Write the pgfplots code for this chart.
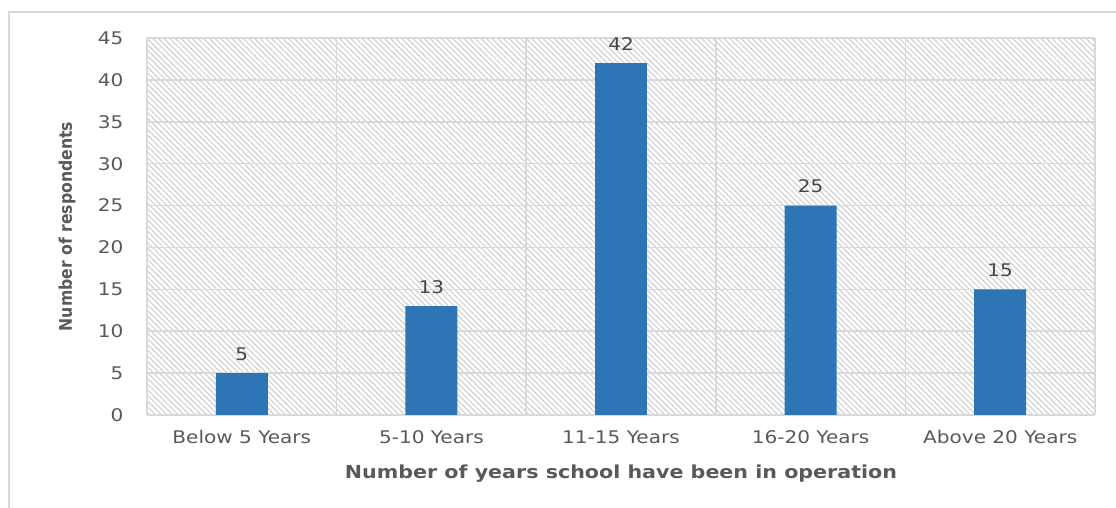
\documentclass[border=0pt]{standalone}
\usepackage{fontspec}
\setmainfont{DejaVu Sans}
\usepackage{pgfplots}
\pgfplotsset{compat=1.18}
\usetikzlibrary{patterns.meta}
\definecolor{barblue}{HTML}{2E75B6}
\definecolor{txt}{HTML}{595959}
\definecolor{gridc}{HTML}{D9D9D9}
\definecolor{hatch}{HTML}{CCCCCC}
\newfontfamily\tickfont[FakeStretch=1.15]{DejaVu Sans}
\newfontfamily\ylabfont{DejaVu Sans Condensed Bold}
\begin{document}
\begin{tikzpicture}[x=1bp,y=1bp]
\useasboundingbox (0,0) rectangle (1116,508);
\draw[gridc, line width=1.5bp] (9,0) -- (9,496) -- (1116,496);
\begin{axis}[
  at={(147bp,93bp)}, anchor=south west,
  scale only axis, width=948bp, height=377bp,
  xmin=-0.5, xmax=4.5, ymin=0, ymax=45,
  ytick={0,5,...,45},
  xtick={0,...,4},
  xticklabels={Below 5 Years,5-10 Years,11-15 Years,16-20 Years,Above 20 Years},
  minor xtick={-0.5,0.5,1.5,2.5,3.5,4.5},
  xminorgrids, ymajorgrids,
  grid style={gridc, line width=1.6bp},
  minor grid style={gridc, line width=1.6bp},
  axis line style={draw=none},
  major tick length=0pt, minor tick length=0pt,
  axis background/.style={pattern={Lines[angle=-45,distance=4bp,line width=1bp]}, pattern color=hatch},
  ticklabel style={font=\tickfont\fontsize{17.5}{20}\selectfont, text=txt},
  yticklabel style={xshift=-20bp},
  xticklabel style={yshift=-12bp},
  /pgf/number format/assume math mode=true,
  xlabel={Number of years school have been in operation},
  xlabel style={at={(axis description cs:0.5,0)}, anchor=center, yshift=-59bp,
    font=\tickfont\bfseries\fontsize{18}{20}\selectfont, text=txt},
  ylabel={Number of respondents},
  ylabel style={at={(axis description cs:-0.0844,0.5)}, anchor=center,
    font=\ylabfont\fontsize{17.5}{20}\selectfont, text=txt},
  ybar, bar width=0.274,
  nodes near coords,
  nodes near coords style={font=\tickfont\fontsize{17.5}{20}\selectfont, text=txt!80!black, anchor=south, yshift=9bp},
]
\addplot[draw=none, fill=barblue] coordinates {(0,5) (1,13) (2,42) (3,25) (4,15)};
\end{axis}
\end{tikzpicture}
\end{document}
